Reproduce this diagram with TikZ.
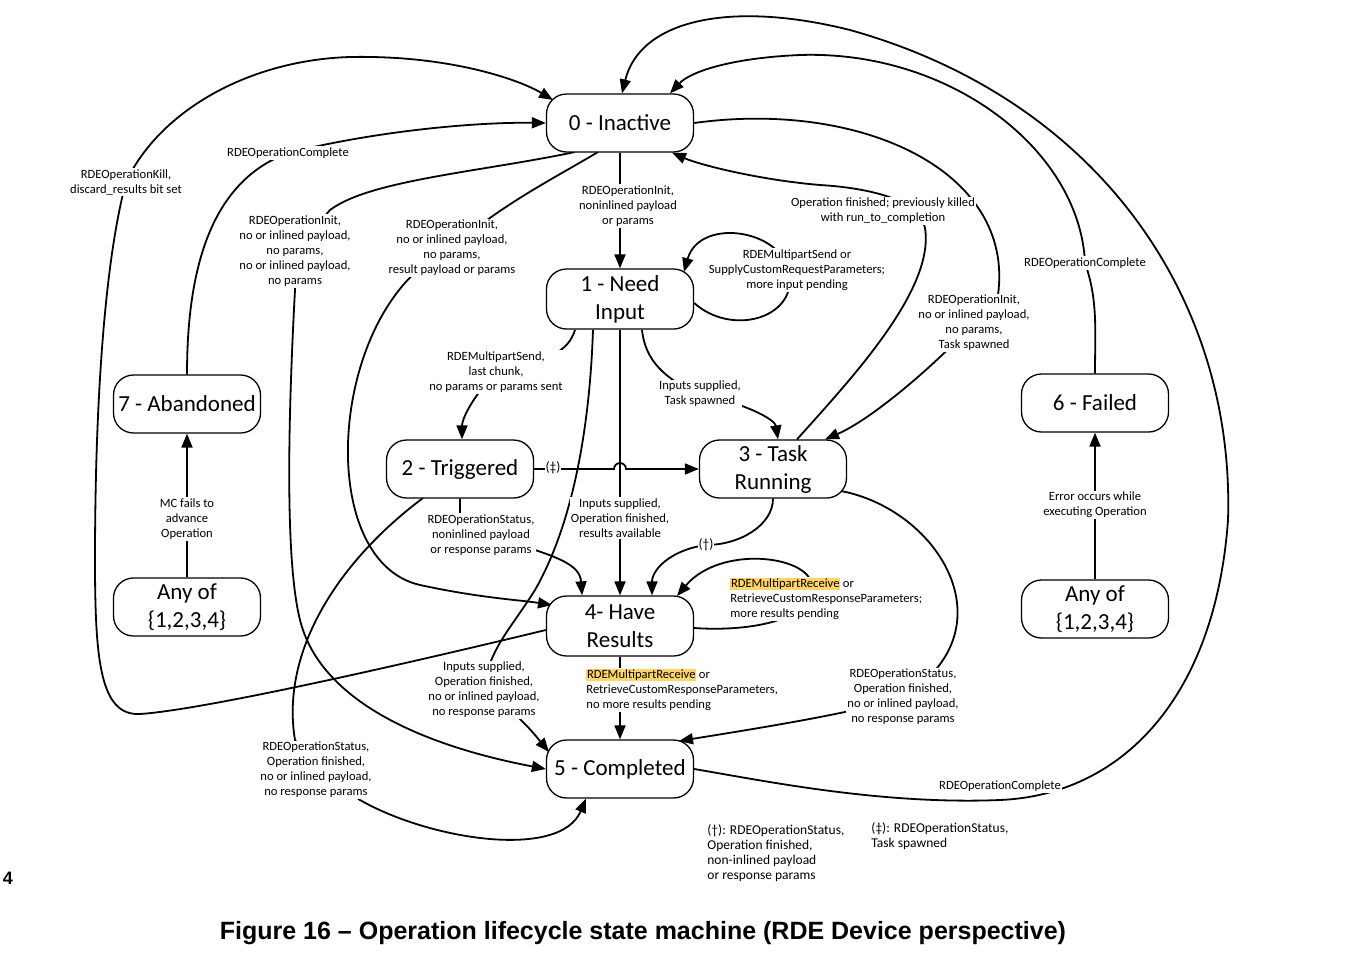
\documentclass[tikz,border=0pt]{standalone}
\usepackage{fontspec}
\setmainfont{Carlito}
\newfontfamily\titlefont{Liberation Sans}
\usetikzlibrary{arrows.meta,backgrounds,calc}
\definecolor{hlc}{RGB}{255,212,95}
\newcommand{\hlt}[1]{{\setlength{\fboxsep}{0.6pt}\colorbox{hlc}{#1}}}
\begin{document}
\begin{tikzpicture}[x=1pt,y=-1pt,
  st/.style={draw,line width=1.3pt,fill=white,rounded corners=20pt,minimum width=147pt,minimum height=58pt,inner sep=2pt,align=center,font=\fontsize{23}{28}\selectfont},
  lbl/.style={fill=white,inner sep=1.2pt,align=center,font=\fontsize{12.6}{15}\selectfont},
  lgd/.style={fill=white,inner sep=1.2pt,align=left,anchor=north west,font=\fontsize{13.5}{15}\selectfont},
  ln/.style={line width=1.8pt},
  arr/.style={line width=1.8pt,-{Triangle[length=14pt,width=11pt]}}]
\useasboundingbox (0,0) rectangle (1368,967);
% states
\node[st] (s0) at (620,123) {0 - Inactive};
\node[st,minimum height=60pt] (s1) at (620,299) {1 - Need\\Input};
\node[st] (s2) at (460,469) {2 - Triggered};
\node[st] (s3) at (773,469) {3 - Task\\Running};
\node[st,minimum height=60pt] (s4) at (620,626) {4- Have\\Results};
\node[st] (s5) at (620,769) {5 - Completed};
\node[st] (s6) at (1095,403) {6 - Failed};
\node[st] (s7) at (187,404) {7 - Abandoned};
\node[st] (a7) at (187,607) {Any of\\\{1,2,3,4\}};
\node[st] (a6) at (1095,609) {Any of\\\{1,2,3,4\}};
% labels
\node[lbl] (lA) at (628,206) {RDEOperationInit,\\noninlined payload\\or params};
\node[lbl] (lB) at (797,270) {RDEMultipartSend or\\SupplyCustomRequestParameters;\\more input pending};
\node[lbl] (lC) at (496,372) {RDEMultipartSend,\\last chunk,\\no params or params sent};
\node[lbl] (lD) at (700,394) {Inputs supplied,\\Task spawned};
\node[lbl] (lE) at (620,518) {Inputs supplied,\\Operation finished,\\results available};
\node[lbl,inner sep=0.5pt,font=\fontsize{13.5}{15}\selectfont] (lF) at (553,468) {(‡)};
\node[lbl,inner sep=0.5pt,font=\fontsize{13.5}{15}\selectfont] (lG) at (706,545) {(†)};
\node[lbl,align=left,anchor=west] (lH) at (729,599) {\hlt{RDEMultipartReceive} or\\RetrieveCustomResponseParameters;\\more results pending};
\node[lbl,align=left,anchor=west] (lI) at (585,690) {\hlt{RDEMultipartReceive} or\\RetrieveCustomResponseParameters,\\no more results pending};
\node[lbl] (lJ) at (903,697) {RDEOperationStatus,\\Operation finished,\\no or inlined payload,\\no response params};
\node[lbl] (lK) at (481,535) {RDEOperationStatus,\\noninlined payload\\or response params};
\node[lbl] (lL) at (452,248) {RDEOperationInit,\\no or inlined payload,\\no params,\\result payload or params};
\node[lbl] (lM) at (295,251) {RDEOperationInit,\\no or inlined payload,\\no params,\\no or inlined payload,\\no params};
\node[lbl] (lN) at (288,153) {RDEOperationComplete};
\node[lbl] (lO) at (187,519) {MC fails to\\advance\\Operation};
\node[lbl] (lP) at (1095,505) {Error occurs while\\executing Operation};
\node[lbl] (lQ) at (1085,263) {RDEOperationComplete};
\node[lbl] (lR) at (1000,786) {RDEOperationComplete};
\node[lbl] (lS) at (974,323) {RDEOperationInit,\\no or inlined payload,\\no params,\\Task spawned};
\node[lbl] (lT) at (883,211) {Operation finished; previously killed\\with run\_to\_completion};
\node[lbl] (lU) at (126,182) {RDEOperationKill,\\discard\_results bit set};
\node[lbl] (lV) at (316,770) {RDEOperationStatus,\\Operation finished,\\no or inlined payload,\\no response params};
\node[lbl] (lW) at (484,690) {Inputs supplied,\\Operation finished,\\no or inlined payload,\\no response params};
\node[lgd] (lg1) at (706,823) {(†): RDEOperationStatus,\\Operation finished,\\non-inlined payload\\or response params};
\node[lgd] (lg2) at (870,821) {(‡): RDEOperationStatus,\\Task spawned};
\node[font=\titlefont\bfseries\fontsize{25}{29}\selectfont] (title) at (643,933) {Figure 16 – Operation lifecycle state machine (RDE Device perspective)};
\node[font=\titlefont\bfseries\fontsize{18}{18}\selectfont] (pg) at (8,878) {4};
% connectors
\begin{scope}[on background layer]
\fill[white] (0,0) rectangle (1368,967);
% straight ones
\draw[arr] (s0.south) -- (s1.north);
\draw[arr] (s1.south) -- (s4.north);
\draw[arr] (s4.south) -- (s5.north);
\draw[arr] (a7.north) -- (s7.south);
\draw[arr] (a6.north) -- (s6.south);
\draw[arr] (s2.east) -- (614,469) arc[start angle=180,end angle=360,radius=6] -- (s3.west);
% 1 -> 2
\draw[arr] ($(s1)+(-45,31)$) .. controls (570,345) and (560,360) .. (lC.center) .. controls (470,400) and (462,420) .. ($(s2.north)+(2,0)$);
% 1 -> 3
\draw[arr] ($(s1)+(22,31)$) .. controls (645,360) and (665,380) .. (lD.center) .. controls (750,405) and (775,420) .. ($(s3.north)+(5,0)$);
% 1 self loop
\draw[arr] ($(s1.east)+(0,4)$) .. controls (730,335) and (790,320) .. (790,280) .. controls (790,230) and (700,215) .. ($(s1)+(64,-27)$);
% 3 -> 4
\draw[arr] (s3.south) .. controls (773,525) and (740,545) .. (lG.center) .. controls (670,550) and (652,570) .. ($(s4.north)+(32,0)$);
% 4 self loop
\draw[arr] ($(s4.east)+(0,2)$) .. controls (750,632) and (815,620) .. (812,585) .. controls (808,555) and (720,545) .. ($(s4)+(57,-30)$);
% 2 -> 4
\draw[arr] (s2.south) -- (s2.south |- lK.center) -- (lK.center) .. controls (560,555) and (580,565) .. ($(s4.north)+(-38,0)$);
% 3 -> 5
\draw[arr] ($(s3)+(68,22)$) .. controls (940,510) and (1012,630) .. (lJ.center) .. controls (860,712) and (760,728) .. ($(s5)+(59,-28)$);
% 0 -> 4
\draw[arr] ($(s0)+(-22,29)$) .. controls (560,175) and (500,205) .. (lL.center) .. controls (330,300) and (310,560) .. (420,585) .. controls (480,598) and (520,600) .. ($(s4)+(-68,-21)$);
% 0 -> 5
\draw[arr] ($(s0)+(-45,29)$) .. controls (480,172) and (370,180) .. (330,210) -- (lM.center) -- (295,290) .. controls (288,420) and (285,560) .. (300,620) .. controls (320,700) and (420,745) .. (s5.west);
% 1 -> 5
\draw[arr] ($(s1.south)+(-27,0)$) .. controls (590,420) and (575,520) .. (535,590) .. controls (510,630) and (488,650) .. (lW.center) .. controls (520,715) and (535,735) .. ($(s5)+(-71,-17)$);
% 2 -> 5
\draw[arr] ($(s2)+(-37,29)$) .. controls (340,560) and (280,650) .. (295,740) -- (lV.center) -- (360,800) .. controls (430,840) and (560,860) .. ($(s5.south)+(-34,0)$);
% 7 -> 0
\draw[arr] (s7.north) .. controls (187,260) and (215,180) .. (lN.center) .. controls (380,130) and (480,122) .. (s0.west);
% 6 -> 0
\draw[arr] (s6.north) .. controls (1095,330) and (1098,300) .. (lQ.center) .. controls (1080,150) and (950,50) .. (800,55) .. controls (730,58) and (690,72) .. ($(s0.north)+(50,0)$);
% 5 -> 0
\draw[arr] (s5.east) .. controls (760,780) and (880,805) .. (1000,800) .. controls (1120,795) and (1215,700) .. (1228,520) .. controls (1235,300) and (1100,100) .. (850,30) .. controls (730,0) and (640,20) .. ($(s0.north)+(2,0)$);
% 0 -> 3
\draw[arr] (s0.east) .. controls (860,100) and (1015,170) .. (998,295) -- (lS.center) .. controls (930,370) and (870,420) .. ($(s3.north)+(52,0)$);
% 3 -> 0
\draw[arr] ($(s3.north)+(24,0)$) .. controls (850,380) and (935,290) .. (925,228) .. controls (920,200) and (870,188) .. (820,185) .. controls (760,180) and (700,165) .. ($(s0.south)+(52,0)$);
% 4 -> 0
\draw[arr] ($(s4.west)+(0,4)$) .. controls (380,670) and (200,710) .. (140,714) .. controls (100,716) and (95,660) .. (95,560) .. controls (95,400) and (105,260) .. (lU.center) .. controls (160,110) and (250,60) .. (350,57) .. controls (450,55) and (520,80) .. ($(s0)+(-67,-23)$);
\end{scope}
\end{tikzpicture}
\end{document}
